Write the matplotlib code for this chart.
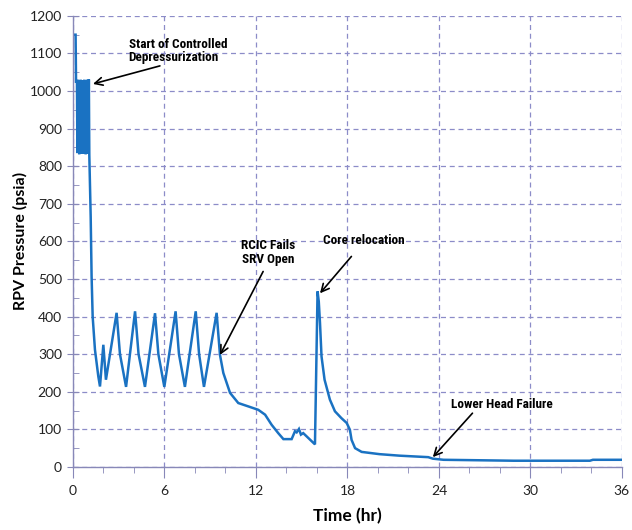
import matplotlib
matplotlib.use("Agg")
import matplotlib.pyplot as plt
from matplotlib import font_manager
from matplotlib.ticker import MultipleLocator

# RPV pressure trace (psia) vs time (hr)
start_time = [0.0, 0.17, 0.2, 0.24]
start_psia = [1150, 1150, 1022, 1028]

# dense SRV cycling during controlled depressurization
band_time = [0.26, 0.29, 0.32, 0.35, 0.38, 0.41, 0.44, 0.47, 0.50, 0.53,
             0.56, 0.59, 0.62, 0.65, 0.68, 0.71, 0.74, 0.77, 0.80, 0.83,
             0.86, 0.89, 0.92, 0.95, 0.98, 1.01, 1.04, 1.07]
band_psia = [1025, 835, 1030, 840, 1022, 832, 1028, 838, 1030, 835,
             1024, 833, 1029, 840, 1026, 834, 1030, 836, 1023, 832,
             1028, 839, 1030, 835, 1025, 833, 1031, 830]

rest_time = [1.16, 1.22, 1.29, 1.44, 1.66, 1.77, 1.99, 2.16,
             2.86, 3.08, 3.48, 4.07, 4.3, 4.72, 5.38, 5.6, 5.99,
             6.73, 6.95, 7.34, 8.05, 8.27, 8.59, 9.42, 9.64, 9.86,
             10.3, 10.84, 11.5, 12.15, 12.6, 13.03, 13.46, 13.8, 14.34,
             14.56, 14.67, 14.82, 14.95, 15.1, 15.87, 16.04, 16.12, 16.2,
             16.3, 16.5, 16.85, 17.18, 17.6, 17.95, 18.16, 18.27, 18.5,
             18.93, 20.1, 21.4, 23.3, 23.6, 24.3, 28.9, 33.9, 34.1, 36.0]
rest_psia = [666, 507, 400, 312, 241, 214, 325, 232,
             410, 300, 213, 414, 300, 213, 409, 300, 213,
             414, 300, 213, 414, 300, 213, 410, 298, 250,
             197, 170, 161, 152, 139, 112, 90, 74, 74,
             95, 92, 101, 86, 90, 60, 467, 440, 383,
             294, 232, 179, 148, 130, 117, 99, 72, 50,
             40, 34, 30, 26, 22, 19, 16.5, 16.5, 19, 19]

time_hr = start_time + band_time + rest_time
pressure = start_psia + band_psia + rest_psia

notes = ["Start of Controlled\nDepressurization", "RCIC Fails\nSRV Open",
         "Core relocation", "Lower Head Failure"]
note_tip = [(1.31, 1019), (9.64, 298), (16.2, 462), (23.6, 26)]
note_text = [(3.65, 1107), (12.8, 570), (19.1, 602), (28.1, 165)]
note_tail = [(5.7, 1067), (12.47, 520), (18.26, 560), (26.2, 143)]

# pick a narrow face for the callouts if one is installed
have = {f.name for f in font_manager.fontManager.ttflist}
narrow = None
for name in ["Liberation Sans Narrow", "DejaVu Sans Condensed",
             "Roboto Condensed", "Open Sans Condensed", "Noto Sans Condensed"]:
    if name in have:
        narrow = name
        break
if narrow:
    note_font = dict(family=[narrow, "DejaVu Sans"], fontsize=9.5,
                     fontweight="bold")
else:
    note_font = dict(family=["Roboto", "DejaVu Sans"], fontsize=8.5,
                     fontweight="bold", fontstretch="condensed")

grid_col = "#8c8cc8"
axis_col = "#8888b8"
label_font = ["Lato", "DejaVu Sans"]

fig = plt.figure(figsize=(6.32, 5.30), dpi=100)
ax = fig.add_axes([0.1155, 0.119, 0.8685, 0.851])

ax.plot(time_hr, pressure, color="#1a72c2", lw=1.8, solid_joinstyle="miter")

ax.set_xlim(0, 36)
ax.set_ylim(0, 1200)
ax.xaxis.set_major_locator(MultipleLocator(6))
ax.xaxis.set_minor_locator(MultipleLocator(2))
ax.yaxis.set_major_locator(MultipleLocator(100))
ax.yaxis.set_minor_locator(MultipleLocator(50))

ax.grid(True, which="major", color=grid_col, ls=(0, (4, 3)), lw=0.9)
ax.set_axisbelow(True)
for s in ["top", "right"]:
    ax.spines[s].set_visible(False)
for s in ["left", "bottom"]:
    ax.spines[s].set_color(axis_col)
    ax.spines[s].set_linewidth(1.0)

ax.tick_params(axis="x", which="major", direction="out", length=8,
               color=axis_col, pad=5)
ax.tick_params(axis="x", which="minor", direction="out", length=4,
               color=axis_col)
ax.tick_params(axis="y", which="major", direction="inout", length=8,
               color=axis_col, pad=4)
ax.tick_params(axis="y", which="minor", direction="in", length=4,
               color=axis_col)
for lab in ax.get_xticklabels() + ax.get_yticklabels():
    lab.set_family(label_font)
    lab.set_fontsize(10)
    lab.set_color("#222222")

ax.set_xlabel("Time (hr)", family=label_font, fontsize=12.5,
              fontweight="bold", labelpad=8)
ax.set_ylabel("RPV Pressure (psia)", family=label_font,
              fontsize=11.5, fontweight="bold", labelpad=1)

for txt, tip, pos, tail in zip(notes, note_tip, note_text, note_tail):
    ha = "left" if txt.startswith("Start") else "center"
    ax.text(pos[0], pos[1], txt, ha=ha, va="center", linespacing=1.05,
            **note_font)
    ax.annotate("", xy=tip, xytext=tail,
                arrowprops=dict(arrowstyle="->", color="black", lw=1.2,
                                mutation_scale=14, shrinkA=0, shrinkB=0))

fig.savefig("out.png", dpi=100)
